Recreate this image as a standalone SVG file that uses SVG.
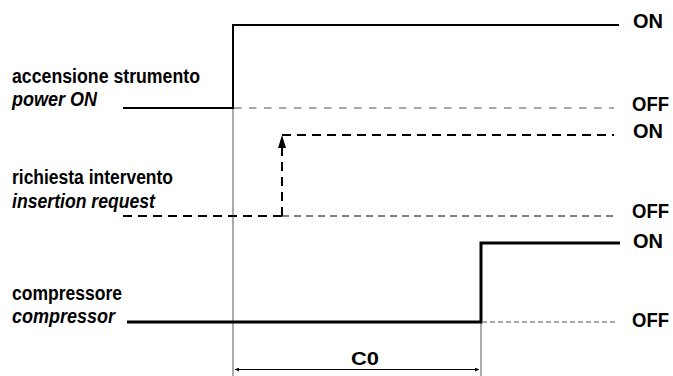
<svg xmlns="http://www.w3.org/2000/svg" width="673" height="376" viewBox="0 0 673 376">
<defs>
<style>
.lbl{font-family:"Liberation Sans",Arial,sans-serif;font-weight:bold;font-size:20px;fill:#000}
.it{font-style:italic}
.st{font-family:"Liberation Sans",Arial,sans-serif;font-weight:bold;font-size:21px;fill:#000}
.sig{fill:none;stroke:#000;stroke-width:2}
.sigT{fill:none;stroke:#000;stroke-width:3}
.grey{fill:none;stroke:#8a8a8a;stroke-width:1.5;stroke-dasharray:7.5 7.5}
.dsh{fill:none;stroke:#000;stroke-width:2;stroke-dasharray:9 6}
.thin{fill:none;stroke:#000;stroke-width:1;stroke-dasharray:7 5}
.guide{fill:none;stroke:#555;stroke-width:1}
</style>
<marker id="ah" viewBox="0 0 10 10" refX="10" refY="5" markerWidth="8" markerHeight="4" markerUnits="userSpaceOnUse" orient="auto-start-reverse">
<path d="M0,0 L10,5 L0,10 z" fill="#000"/>
</marker>
</defs>
<rect width="673" height="376" fill="#fff"/>

<g id="connectors">
<line class="guide" x1="233" y1="108" x2="233" y2="376"/>
<line class="guide" x1="481" y1="322" x2="481" y2="376"/>
<line x1="235" y1="369.5" x2="479" y2="369.5" stroke="#000" stroke-width="1" marker-start="url(#ah)" marker-end="url(#ah)"/>
</g>

<g id="power">
<text class="lbl" x="12" y="83" textLength="188" lengthAdjust="spacingAndGlyphs">accensione strumento</text>
<text class="lbl it" x="12" y="106" textLength="85" lengthAdjust="spacingAndGlyphs">power ON</text>
<polyline class="sig" points="123,108 233,108 233,25 619,25"/>
<line class="grey" x1="234" y1="108" x2="614" y2="108"/>
<text class="st" x="633" y="28" textLength="30" lengthAdjust="spacingAndGlyphs">ON</text>
<text class="st" x="632" y="111" textLength="37" lengthAdjust="spacingAndGlyphs">OFF</text>
</g>

<g id="request">
<text class="lbl" x="12" y="184" textLength="161" lengthAdjust="spacingAndGlyphs">richiesta intervento</text>
<text class="lbl it" x="12" y="208" textLength="143" lengthAdjust="spacingAndGlyphs">insertion request</text>
<line class="dsh" x1="123" y1="216" x2="282" y2="216"/>
<line class="thin" x1="282" y1="216" x2="618" y2="216"/>
<line class="dsh" x1="282" y1="216" x2="282" y2="147" stroke-dasharray="10 5"/>
<path d="M282,135 L286,148 L278,148 z" fill="#000"/>
<line class="dsh" x1="282" y1="135" x2="614" y2="135"/>
<text class="st" x="633" y="138" textLength="30" lengthAdjust="spacingAndGlyphs">ON</text>
<text class="st" x="632" y="218" textLength="37" lengthAdjust="spacingAndGlyphs">OFF</text>
</g>

<g id="compressor">
<text class="lbl" x="12" y="300" textLength="110" lengthAdjust="spacingAndGlyphs">compressore</text>
<text class="lbl it" x="12" y="323" textLength="103" lengthAdjust="spacingAndGlyphs">compressor</text>
<polyline class="sigT" points="127,322 481,322 481,243 620,243"/>
<line x1="482" y1="322" x2="618" y2="322" stroke="#8a8a8a" stroke-width="1.5" stroke-dasharray="5 3"/>
<text class="st" x="633" y="248" textLength="30" lengthAdjust="spacingAndGlyphs">ON</text>
<text class="st" x="632" y="327" textLength="37" lengthAdjust="spacingAndGlyphs">OFF</text>
</g>

<g id="c0">
<text x="351" y="365" font-family="'Liberation Sans',Arial,sans-serif" font-weight="bold" font-size="19" textLength="28" lengthAdjust="spacingAndGlyphs">C0</text>
</g>
</svg>
